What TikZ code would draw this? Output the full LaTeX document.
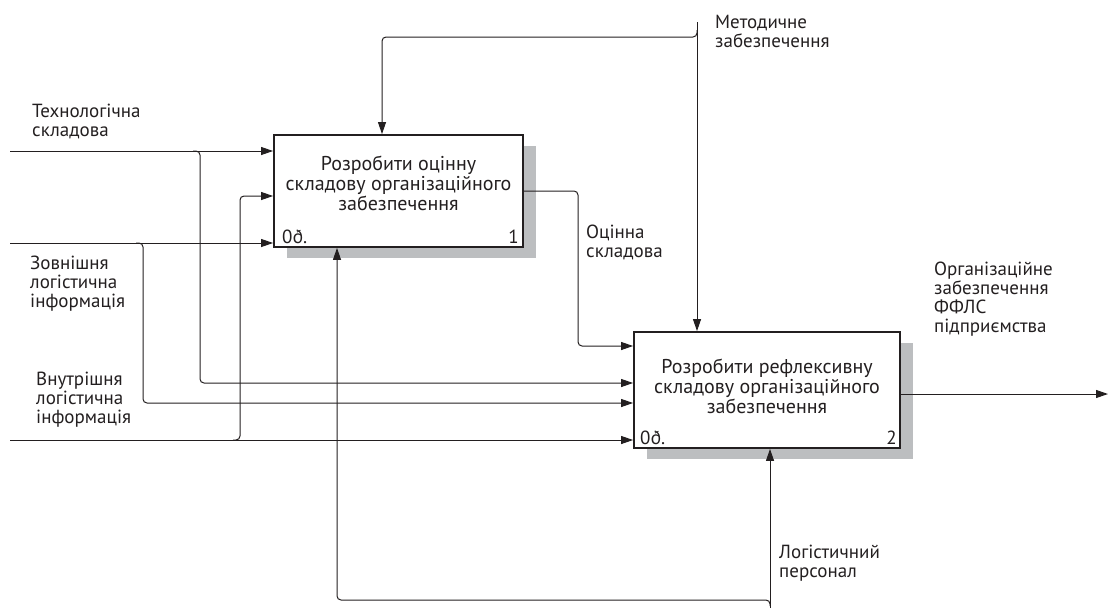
\documentclass[tikz,border=0pt]{standalone}
\usepackage{fontspec}
\setmainfont{PT Sans}
\usetikzlibrary{arrows.meta,shadows}
\definecolor{ink}{HTML}{231F20}
\definecolor{shade}{HTML}{BCBEC0}
\begin{document}
\begin{tikzpicture}[x=1pt,y=-1pt,
  font=\fontsize{19}{19}\selectfont,
  every node/.style={text=ink},
  box/.style={draw=ink, line width=1.8pt, fill=white, inner sep=0,
    general shadow={fill=shade, shadow xshift=13pt, shadow yshift=-11pt}},
  boxtext/.style={align=center, inner sep=0, font=\fontsize{20}{20}\selectfont},
  lbl/.style={anchor=base west, align=left, inner sep=0},
  conn/.style={draw=ink, line width=1pt, rounded corners=4pt},
  arr/.style={-{Triangle[length=12pt,width=8pt]}}
]
\useasboundingbox (0,0) rectangle (1110,608);
% boxes
\node[box, minimum width=249pt, minimum height=112pt] (b1) at (398.5,191) {};
\node[box, minimum width=266pt, minimum height=116pt] (b2) at (767,390) {};
\node[boxtext] (t1) at (398.5,183) {Розробити оцінну\\складову організаційного\\забезпечення};
\node[boxtext] (t2) at (767,386) {Розробити рефлексивну\\складову організаційного\\забезпечення};
\node[anchor=base west, inner sep=0] (c1) at (282,243) {0ð.};
\node[anchor=base east, inner sep=0] (n1) at (519,243) {1};
\node[anchor=base west, inner sep=0] (c2) at (640,444) {0ð.};
\node[anchor=base east, inner sep=0] (n2) at (897,444) {2};
% endpoints
\coordinate (in1) at (10,151);
\coordinate (in2) at (10,243);
\coordinate (in3) at (10,440);
\coordinate (ctl) at (697,22);
\coordinate (mech) at (770,608);
\coordinate (out) at (1108,394);
% inputs
\draw[conn,arr] (in1) -- (in1 -| b1.west);
\draw[conn,arr] (in2) -- (in2 -| b1.west);
\draw[conn,arr] (in3) -- (in3 -| b2.west);
\draw[conn,arr] (193,151) -- (200,151) -- (200,383) -- (b2.west |- 0,383);
\draw[conn,arr] (136,243) -- (143,243) -- (143,403) -- (b2.west |- 0,403);
\draw[conn,arr] (233,440) -- (240,440) -- (240,196) -- (b1.west |- 0,196);
% box1 -> box2
\draw[conn,arr] (b1.east |- 0,191) -- (578,191) -- (578,346) -- (b2.west |- 0,346);
% control
\draw[conn,arr] (ctl) -- (ctl |- b2.north);
\draw[conn,arr] (697,30) -- (697,37) -- (382,37) -- (382,0 |- b1.north);
% mechanism
\draw[conn,arr] (mech) -- (mech |- b2.south);
\draw[conn,arr] (770,606) -- (770,600) -- (337,600) -- (337,0 |- b1.south);
% output
\draw[conn,arr] (b2.east |- out) -- (out);
% labels (anchored at the baseline of the last line)
\node[lbl] (l1) at (32,136) {Технологічна\\складова};
\node[lbl] (l2) at (30,307) {Зовнішня\\логістична\\інформація};
\node[lbl] (l3) at (36,423) {Внутрішня\\логістична\\інформація};
\node[lbl] (l4) at (715,47) {Методичне\\забезпечення};
\node[lbl] (l5) at (586,257) {Оцінна\\складова};
\node[lbl] (l6) at (934,332) {Організаційне\\забезпечення\\ФФЛС\\підприємства};
\node[lbl] (l7) at (779,577) {Логістичний\\персонал};
\end{tikzpicture}
\end{document}
